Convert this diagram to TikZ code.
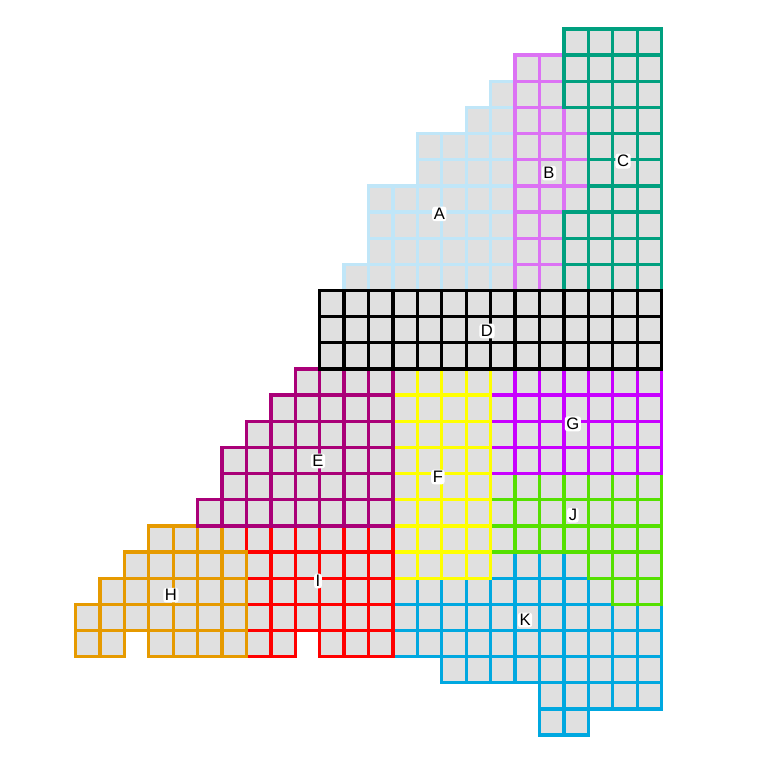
\documentclass[tikz,border=0pt]{standalone}
\usepackage{fontspec}
\setmainfont{Liberation Sans}
\definecolor{cellgray}{HTML}{E0E0E0}
\definecolor{regA}{HTML}{C0E6F8}
\definecolor{regB}{HTML}{DC72F4}
\definecolor{regC}{HTML}{00A07F}
\definecolor{regE}{HTML}{AA0078}
\definecolor{regF}{HTML}{FFFF00}
\definecolor{regG}{HTML}{C800FF}
\definecolor{regH}{HTML}{E69A00}
\definecolor{regI}{HTML}{FF0000}
\definecolor{regJ}{HTML}{55E000}
\definecolor{regK}{HTML}{00A8E0}
\newcommand{\region}[2]{%
  \foreach \r/\a/\b in {#2} {\foreach \c in {\a,...,\b} \fill[cellgray] (\c,\r) rectangle ++(1,1);}
  \foreach \r/\a/\b in {#2} {\foreach \c in {\a,...,\b} \draw[cell, draw=#1] (\c,\r) rectangle ++(1,1);}}
\begin{document}
\begin{tikzpicture}[x=0.6461cm, y=-0.6919cm,
    cell/.style={line width=2.5pt},
    lab/.style={fill=white, rounded corners=2pt, inner sep=1.2pt, font=\fontsize{12.5}{14}\selectfont}]
	\useasboundingbox (-3.092,-1.109) rectangle (27.867,28.336);
	\region{regK}{20/17/20, 21/13/21, 22/13/23, 23/13/23, 24/15/23, 25/19/23, 26/19/20}
	\region{regJ}{17/17/23, 18/17/23, 19/17/23, 20/21/23, 21/22/23}
	\region{regG}{13/17/23, 14/17/23, 15/17/23, 16/17/23}
	\region{regF}{13/13/16, 14/13/16, 15/13/16, 16/13/16, 17/13/16, 18/13/16, 19/13/16, 20/13/16}
	\region{regI}{19/6/12, 20/7/12, 21/7/12, 22/7/12, 23/7/8, 23/10/12}
	\region{regH}{19/3/5, 20/2/6, 21/1/6, 22/0/6, 23/0/1, 23/3/6}
	\region{regE}{13/9/12, 14/8/12, 15/7/12, 16/6/12, 17/6/12, 18/5/12}
	\region{regA}{2/17/17, 3/16/17, 4/14/17, 5/14/17, 6/12/17, 7/12/17, 8/12/17, 9/11/17}
	\region{regB}{1/18/19, 2/18/19, 3/18/20, 4/18/20, 5/18/20, 6/18/20, 7/18/19, 8/18/19, 9/18/19}
	\region{regC}{0/20/23, 1/20/23, 2/20/23, 3/21/23, 4/21/23, 5/21/23, 6/21/23, 7/20/23, 8/20/23, 9/20/23}
	\region{black}{10/10/23, 11/10/23, 12/10/23}
	\node[lab] (labA) at (14.9,7.07) {A};
	\node[lab] (labB) at (19.39,5.51) {B};
	\node[lab] (labC) at (22.42,5.05) {C};
	\node[lab] (labD) at (16.85,11.55) {D};
	\node[lab] (labE) at (9.93,16.52) {E};
	\node[lab] (labF) at (14.84,17.13) {F};
	\node[lab] (labG) at (20.37,15.1) {G};
	\node[lab] (labH) at (3.91,21.65) {H};
	\node[lab] (labI) at (9.93,21.11) {I};
	\node[lab] (labJ) at (20.37,18.59) {J};
	\node[lab] (labK) at (18.41,22.6) {K};
\end{tikzpicture}
\end{document}
